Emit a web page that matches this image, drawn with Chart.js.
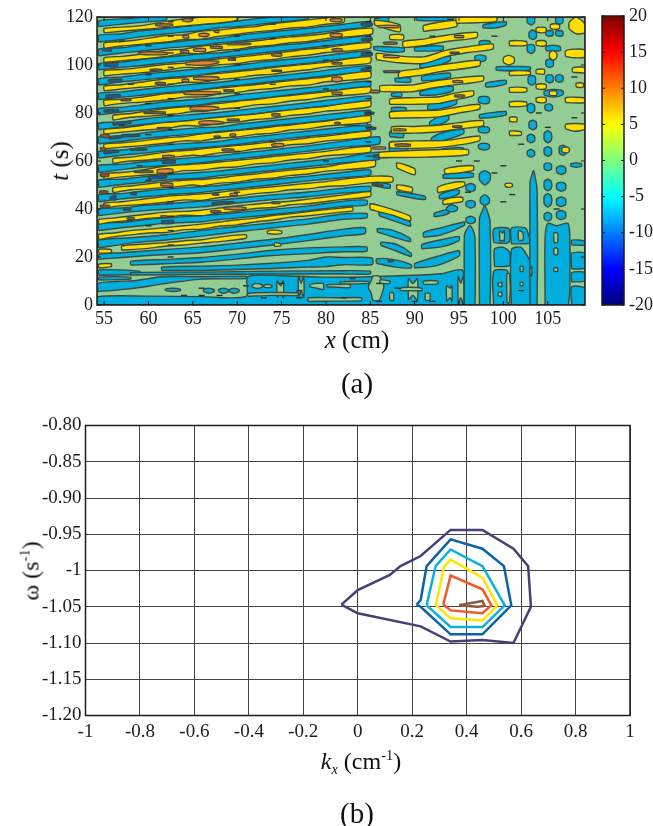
<!DOCTYPE html>
<html>
<head>
<meta charset="utf-8">
<script src="https://cdn.jsdelivr.net/npm/chart.js@4"></script>
<style>
  body { margin: 0; background: #fff; width: 653px; height: 826px; overflow: hidden; position: relative; }
  canvas { position: absolute; }
  .lbl { position: absolute; font-family: "Liberation Serif", serif; color: #111; white-space: nowrap; transform: translate(-50%, -50%); }
  .lbl sup, .lbl sub { font-size: 60%; line-height: 0; }
  .rot { transform: translate(-50%, -50%) rotate(-90deg); }
</style>
</head>
<body>
<canvas id="contour" width="653" height="335" style="left:0;top:0"></canvas>
<canvas id="colorbar" width="58" height="335" style="left:595px;top:0"></canvas>
<canvas id="spectrum" width="653" height="340" style="left:0;top:410px"></canvas>
<div class="lbl rot" style="left:60px;top:161px;font-size:25px"><i>t</i> (s)</div>
<div class="lbl" style="left:357px;top:340px;font-size:25px"><i>x</i> (cm)</div>
<div class="lbl" style="left:357px;top:383px;font-size:29px">(a)</div>
<div class="lbl rot" style="left:31px;top:571px;font-size:24px">ω (s<sup>-1</sup>)</div>
<div class="lbl" style="left:361px;top:761px;font-size:24px"><i>k<sub>x</sub></i> (cm<sup>-1</sup>)</div>
<div class="lbl" style="left:357px;top:813px;font-size:29px">(b)</div>
<script>
// panel (a) axes
const xTicksA = [55, 60, 65, 70, 75, 80, 85, 90, 95, 100, 105];
const tTicksA = [0, 20, 40, 60, 80, 100, 120];
const barTicks = [-20, -15, -10, -5, 0, 5, 10, 15, 20];
const jetStops = ['#800000', '#ff0000', '#ffff00', '#00ffff', '#0000ff', '#000080'];

// bands: x, t low, t high, x, t low, t high ...
const groundBand = [54.2, 0, 120, 109.2, 0, 120];

const blueBands = [
  [54.4,116,118.4, 58,117.4,119.4, 62,118.8,120.6],
  [54.4,109.6,112.4, 57,110.6,113, 59,111.7,114.2, 62,113,115.2, 66,114.4,116.9, 68,115.5,117.4, 70,116,118.3, 74,117.6,120, 78,119.2,120.6],
  [54.4,103.8,106.6, 57,105,107.2, 59,105.7,108.2, 62,107,109.3, 66,108.2,110.7, 68,109.3,111.1, 70,109.9,112.3, 74,111.5,113.9, 78,113,115.3, 82,114.8,117, 85,116.1,118.1],
  [54.4,98,100.6, 57,99,101.2, 59,99.7,102.2, 62,100.9,103.3, 66,102.3,104.7, 68,103.2,105, 70,103.9,106.1, 74,105.5,107.9, 78,107.1,109.3, 82,108.7,111.1, 85,110,112.1],
  [54.4,91.6,94.2, 57,93,95, 59,93.7,96, 62,94.7,97.1, 66,95.9,98.5, 68,97,99, 70,97.7,99.9, 74,99.3,101.7, 78,100.8,103.1, 82,102.5,104.9, 85,103.8,105.9],
  [54.4,85.6,88.2, 57,86.6,88.8, 59,87.3,89.7, 62,88.5,90.9, 66,89.7,92.3, 68,90.8,92.8, 70,91.5,93.7, 74,93.1,95.3, 78,94.7,96.9, 82,96.3,98.7, 85,97.5,99.7],
  [54.4,79.2,81.8, 57,80.4,82.4, 59,81.1,83.3, 62,82.3,84.7, 66,83.5,85.9, 68,84.6,86.4, 70,85.1,87.5, 74,86.7,89.1, 78,88.5,90.5, 82,89.9,92.3, 85,91.3,93.3],
  [54.4,73,75.8, 57,74.2,76.2, 59,75.1,77.3, 62,76.1,78.5, 66,77.3,79.7, 68,78.4,80.2, 70,78.9,81.1, 74,80.5,82.7, 78,82.1,84.3, 82,83.7,86.1, 85,85.1,87.1],
  [54.4,67.2,70, 57,68.2,70.4, 59,69.1,71.5, 62,70.3,72.7, 66,71.5,73.9, 68,72.4,74.2, 70,72.9,75.3, 74,74.7,76.9, 78,76.1,78.5, 82,77.7,80.1, 85,78.9,81.1],
  [54.4,61.2,64, 57,62.4,64.6, 59,63.1,65.5, 62,64.3,66.7, 66,65.5,67.7, 68,66.2,68.2, 70,66.9,69.3, 74,68.7,70.9, 78,70.3,72.5, 82,71.7,74.1, 85,72.9,75.1],
  [54.4,55.2,58.2, 57,56.4,58.6, 59,57.3,59.5, 62,58.1,60.5, 66,59.3,61.7, 68,60.2,62.2, 70,60.9,63.1, 74,62.5,64.7, 78,64.1,66.3, 82,65.9,68.3, 86,67.1,70.1],
  [54.4,49,52, 57,50.2,52.4, 59,50.9,53.3, 62,52.1,54.3, 66,52.9,55.3, 68,53.9,55.9, 70,54.5,56.7, 74,56.1,58.3, 78,57.7,59.9, 82,59.3,61.5, 86,60.7,63.7],
  [54.4,43,46, 57,44.2,46.4, 59,44.9,47.3, 62,45.9,48.3, 66,46.9,49.3, 68,47.8,49.8, 70,48.5,50.7, 74,50.1,52.3, 78,51.7,53.7, 82,53.1,55.3, 85,54.1,56.3],
  [54.4,37.2,40, 57,38.4,40.4, 59,39.1,41.3, 62,39.9,42.1, 66,40.9,43.3, 68,41.7,43.7, 70,42.5,44.5, 74,43.9,45.9, 78,45.1,47.1, 82,46.7,48.7, 85,47.5,49.5],
  [54.4,31,34, 57,32.2,34.4, 59,32.9,35.3, 62,34.1,36.3, 66,34.7,37.3, 68,35.6,37.8, 70,36.3,38.5, 74,37.7,39.9, 78,39.3,41.3, 82,41.1,43.3, 84.6,41.7,43.7],
  [54.4,23.8,27, 58,25.8,28, 62,27.1,29.3, 66,28.7,31.1, 70,30.5,32.7, 74,32.1,34.3, 78,33.7,35.9, 82,35.7,37.9, 84.6,36.3,38.1],
  [54.4,19,21, 57,19.8,21.8, 60,20.6,22.6, 63,21.2,23.4, 66,21.8,24.2, 70,23.4,25.8, 74,25,27.4, 78,26.8,29.4, 82,28.8,31.6, 84.4,29.8,32.2],
  [58,16.6,18.2, 62,17.2,19, 66,17.8,19.8, 70,19.2,21.2, 74,20.6,22.8, 78,21.4,23.8, 82,22.2,24.2, 84.6,22.4,24.2],
  [61.5,14.4,15.8, 66,14.4,16.2, 70,14.8,16.6, 74,15.2,17.4, 78,15.8,18.6, 80,16,20, 82,16.8,19.8, 85.2,16.8,19.6],
  [54.4,12.4,14.6, 59,12.9,14.1],
  [58,12.5,13.5, 66,12.7,13.7, 74,12.9,14.1, 82,12.9,14.3, 85,12.9,14.1],
  [54.2,0,3.4, 60,0,3.7, 66,0,3.5, 71,0,3.6, 71.2,0,11.8, 75,0,12.2, 80,0,11.6, 85,0,11.8, 90,0,12.4, 93,0,13, 95.4,0,14.4],
  [54.3,5.6,9, 56.4,6.2,9.8, 58.4,7,10.1, 60,7.8,11, 61.4,8.7,11.8, 66,10.8,11.8, 71,11,12],
  [54.4,10.4,11.6, 58,10.8,11.6],
  [61.9,6,6.6, 62.7,5.6,7, 63.6,6,6.6],
  [66.2,5.6,6.4, 66.8,4.9,7, 67.4,5.6,6.4],
  [67.9,5.6,6.4, 68.4,4.9,7, 69,5.6,6.4],
  [69.1,5.6,6.4, 69.6,4.9,7, 70.2,5.6,6.4],
  // right of the kink at x = 85
  [85.5,117.8,119.2, 87,117.4,120.2],
  [90.2,118.6,119.8, 92,118.4,120.2, 94.3,118.8,120.2],
  [85.4,106.4,107.6, 87,105.4,107.6, 88.8,105.6,107],
  [90,105.8,107.2, 92,105.8,108, 93.2,106.4,107.8],
  [90.6,98.8,100.2, 92,99.2,102.2, 94,101.8,103.6],
  [87.8,93,94.4, 89.5,92.8,94.6],
  [90.8,93.4,95.2, 92.5,93.8,96.2, 94,94.8,96.6],
  [87.4,87,88.2, 88.5,86.8,88.6],
  [90.6,87.4,88.8, 92.5,87.6,90.6, 94.3,89.2,91],
  [87.4,80.8,82.2, 89,80.8,82.2],
  [91.5,81.2,83.2, 93,81.8,85.2, 94.7,83.8,85.6],
  [91.7,74.6,76.2, 92.8,75.2,78.6, 93.8,77.2,79.2],
  [87.2,70.2,72.2, 88.7,69.8,71.8],
  [91.9,67.4,69.6, 93.5,68.8,72.2, 95.5,71.4,73.2],
  [87.2,61.8,67.8, 89,62.2,67],
  [93,62.6,64.8, 94.5,63.2,65.6, 95.5,64,65.4],
  [82,75,77, 84.6,74.8,76.8],
  [86,37.2,38.8, 88,34.6,37, 89.5,32.8,34.4],
  [85.8,30.4,31.8, 87.5,28.4,31.2, 89.5,26.4,27.8],
  [86.2,24.8,26.2, 88,22.4,25.2, 89.6,20.2,21.6],
  [85.7,17.4,19.2, 87.5,16,19, 89.6,15.4,16.8],
  [88,45.8,47.2, 90,44.4,46.2, 91.2,44,45.2],
  [85.3,49.8,51.2, 87.2,48.6,50.2],
  [91,28.2,30.2, 93,29.2,32.2, 95.6,33.2,34.6],
  [90.8,23.4,25.2, 93,24.2,27.2, 95,26.8,28.6],
  [90,15.4,17.2, 92.5,16.4,20.2, 95,20.4,22.6],
  [92.8,44.2,45.8, 94,44.8,47.6, 95,46.4,47.8],
  [93.2,52.8,54.2, 95,52.8,55.2, 96.6,53.4,54.8],
  [92.2,36.8,38.2, 93,37.2,39.2, 93.9,38.4,39.8],
  [93.6,39.4,40.6, 94.2,38.8,41.8, 94.8,39.6,40.8],
  [95.8,48,49.8, 96.3,47.2,50.6, 96.8,48,49.8],
  [95.8,41.2,42.8, 96.3,40.4,43.6, 96.8,41.2,42.8],
  [95.8,34.6,36.2, 96.3,33.8,37, 96.8,34.6,36.2],
  [97.3,52,54.6, 97.9,50,56, 98.5,52,54.6],
  [97.4,42.6,44.4, 97.9,41.5,46, 98.4,42.6,44.4],
  // blobs past x = 97
  [97.7,115.4,116.6, 99,115.4,117.6, 100.3,116.6,118],
  [97.3,108,109.8, 97.9,107.6,110.2, 98.5,108,109.8],
  [96.8,102,103.6, 97.4,101.4,104.2, 98,102,103.6],
  [99.2,97.8,99.2, 101,97.6,99.4, 103,97.8,99.2],
  [98,90.8,92.4, 99,91,93.2, 100.3,92.2,93.6],
  [97.2,84.4,86.4, 97.8,83.8,87, 98.4,84.4,86.4],
  [97.3,77.8,79.2, 98.8,78.2,80.2, 100.3,79.2,80.6],
  [97.2,72.2,73.8, 97.8,71.6,74.4, 98.4,72.2,73.8],
  [97.2,65.2,66.8, 97.8,64.6,67.4, 98.4,65.2,66.8],
  [102.7,117.6,119.8, 103.1,116.6,120.2, 103.5,117.6,119.8],
  [105.9,117.8,119.6, 106.3,117,120.2, 106.7,117.8,119.6],
  [104.8,112.4,114, 105.2,112,114.4, 105.6,112.4,114],
  [105.9,112.4,114, 106.3,112,114.4, 106.7,112.4,114],
  [102.9,111.4,113.6, 103.3,110.6,114.6, 103.7,111.4,113.6],
  [102.7,105.6,108, 103.1,104.8,108.6, 103.5,105.6,108],
  [104.8,106,107.6, 105.6,105.8,108.2, 106.4,106,107.6],
  [104.8,99.6,101.8, 105.2,99,102.4, 105.6,99.6,101.8],
  [104.8,93.2,95.4, 105.2,92.6,96, 105.6,93.2,95.4],
  [105.9,93.4,95.4, 106.3,92.8,96, 106.7,93.4,95.4],
  [102.8,92.4,95, 103.2,91.6,95.6, 103.6,92.4,95],
  [104.6,87.4,89, 105.6,86.6,89.8, 106.7,87.6,89.2],
  [102.7,80.8,83.2, 103.1,80,84, 103.5,80.8,83.2],
  [104.7,81.4,83.2, 105.1,80.8,83.8, 105.5,81.4,83.2],
  [102.9,73.8,76.2, 103.3,73,77, 103.7,73.8,76.2],
  [104.6,68.6,71.6, 105,67.6,72.6, 105.4,68.6,71.6],
  [102.7,68.4,70.4, 103.1,67.6,71.2, 103.5,68.4,70.4],
  [106.3,63.2,65.8, 106.7,62.4,66.6, 107.1,63.2,65.8],
  [104.6,62.8,65.2, 105,62,66, 105.4,62.8,65.2],
  [102.7,62.4,64, 103.1,61.6,64.8, 103.5,62.4,64],
  [106,55.2,57.2, 106.5,54.4,58, 107,55.2,57.2],
  [106,48.2,50.4, 106.5,47.4,51.2, 107,48.2,50.4],
  [106,41.8,44.2, 106.5,41,45, 107,41.8,44.2],
  [106,36.4,38.6, 106.5,35.6,39.4, 107,36.4,38.6],
  [104.6,56.6,58.6, 105,56,59.2, 105.4,56.6,58.6],
  [104.6,48.6,51.4, 105,47.6,52.4, 105.4,48.6,51.4],
  [104.6,42,45.4, 105,40.8,46.4, 105.4,42,45.4],
  [104.6,35.8,37.8, 105,35,38.6, 105.4,35.8,37.8],
  [107.6,57.8,58.8, 108.2,57.4,59.2, 108.8,57.8,58.8],
  // blue columns on the right, low / high per x
  [95.6,0,29, 95.8,0,31, 96.2,0,33, 96.6,0,31, 96.8,0,28],
  [97.3,0,36, 97.6,0,39, 97.9,0,41.5, 98.2,0,39, 98.5,0,35],
  [98.9,26,31.6, 100.6,26,31.8],
  [99,16,23.4, 100,16,24, 100.7,16.5,22],
  [98.9,0,14, 100.5,0,14],
  [100.9,25.5,32, 102.5,25.5,32, 103,26,27],
  [100.9,0,23, 102,0,24, 103.2,0,16],
  [103,0,51, 103.2,0,54, 103.4,0,56, 103.6,0,53, 103.8,0,48],
  [104.7,0,28, 105,0,34, 106,0,33, 107.3,0,34, 107.5,14,25],
  [107.7,15,21.5, 109.2,15.5,21.5],
  [107.7,9.6,13.5, 109.2,10,13.5],
  [107.7,0,7.5, 109.2,0,7],
  [107.7,25,27, 109.2,25,26.6]
];

// green holes painted over the blue
const greenHoles = [
  [71.7,7.4,8.4, 72.2,6.9,8.9, 72.8,7.4,8.4],
  [73,7.4,8.3, 73.5,7.2,8.5, 73.9,7.5,8.1],
  [74.5,3,10, 74.9,5,8, 75.2,3,10],
  [71.2,3.6,4.8, 74,4,5.2, 77,4,5],
  [76.9,3,12, 77.2,6,9, 77.5,3,12],
  [78.2,7.5,8.5, 79,7,9, 79.7,6.5,9],
  [80.1,7.6,8.4, 81.4,7.4,8.6, 82.7,7.2,8.6],
  [78,1.5,3, 81,1.6,3, 84,1.8,3],
  [84.8,7,8, 85.1,5,10, 85.3,2,12, 86,2,12, 86.5,7,8.5],
  [81.6,8.8,9.6, 84.8,9,9.8],
  [86.1,9,10.4, 87.2,9,10],
  [87.2,2,5, 87.6,2,5],
  [89.3,2,11, 89.8,4,9, 90.3,2,11],
  [88.4,6,7, 89.3,6,7.4, 90.8,6,7],
  [91.2,2,4.8, 91.7,2,4.8],
  [91,8.6,10, 92.6,8.8,10],
  [93.6,1.5,8, 94,3,7, 94.2,1.5,8],
  [94.9,0,12, 95.2,3,9, 95.5,0,12],
  [99.6,26.6,31, 99.9,27,30, 100.1,26.6,31],
  [101.7,27,31, 102.2,27,30],
  [105.7,26,30, 106.1,26,30],
  [105.7,21,23.6, 106.1,21,23.6],
  [105.7,14,15.4, 106.1,14,15.4],
  [99.4,4,5, 99.8,3.6,5.4],
  [99.4,8,9, 99.8,7.6,9.4],
  [101.9,14,16, 102.2,14,16],
  [101.9,8,9.4, 102.2,8,9.4],
  [100.4,1,13, 100.7,1,13],
  [103,13,15, 103.2,12,16]
];

const yellowBands = [
  [55,113.4,115.2, 59,114.7,116.3, 62,115.6,118.2, 66,116.9,120, 70,118.6,120.6],
  [55,107,109.2, 57,107.9,109.8, 59,108.6,110.6, 62,109.6,112.3, 64,110.6,112.6, 66,110.8,114.1, 68,112,114.6, 70,112.8,115.5, 72,113.8,116, 74,114.4,117.2, 76,115.4,118, 78,115.9,118.8, 80,117,119.6, 82,117.8,120.4],
  [55,101,103, 57,101.8,103.6, 59,102.4,104.5, 62,103.6,106.1, 64,104.8,106.6, 66,104.8,107.9, 68,106.1,108.6, 70,106.6,109.3, 72,107.7,110, 74,108.2,110.9, 76,109.3,111.7, 78,109.8,112.3, 80,111,113.1, 82,111.6,114.3, 85.2,112.9,115.3],
  [55,95.4,97.6, 57,96.2,98.1, 59,96.7,98.9, 62,97.8,100.3, 64,99,100.8, 66,98.9,101.9, 68,100.1,102.6, 70,100.6,103.3, 72,101.7,104, 74,102.3,104.9, 76,103.4,105.7, 78,104.1,106.6, 80,105.2,107.2, 82,105.7,108.3, 85,107,109.3],
  [55,89.2,91.2, 57,90,91.8, 59,90.7,92.8, 62,91.6,94.3, 64,92.8,94.8, 66,92.8,95.8, 68,94,96.5, 70,94.6,97.3, 72,95.7,98, 74,96.2,98.9, 76,97.3,99.7, 78,98,100.4, 80,99.2,101.1, 82,99.7,102.3, 85,100.9,103.5],
  [55,83,85.3, 57,84,85.7, 59,84.5,86.5, 62,85.4,88.1, 64,86.6,88.6, 66,86.7,89.7, 68,88,90.4, 70,88.6,91.1, 72,89.7,91.8, 74,90.2,92.7, 76,91.3,93.5, 78,91.6,94.3, 80,93,95, 82,93.5,96.1, 85,94.7,97.3],
  [56,77,79, 58,78.2,79.8, 60,78.7,80.9, 63,79.6,82.3, 65,80.6,82.8, 66,80.6,83.3, 68,81.6,84, 70,82.2,84.9, 72,83.4,85.6, 74,83.8,86.5, 76,85,87.3, 78,85.6,88.1, 80,86.8,88.8, 82,87.3,89.9, 85,88.5,90.9],
  [55,71.2,73.2, 57,72,73.8, 59,72.7,74.7, 62,73.6,76.1, 64,74.8,76.6, 66,74.6,77.5, 68,75.9,78.2, 70,76.2,78.9, 72,77.3,79.6, 74,77.8,80.5, 76,79,81.3, 78,79.6,82.1, 80,80.8,82.8, 82,81.3,83.9, 85,82.7,85.1],
  [55,65,67, 57,65.8,67.6, 59,66.3,68.3, 62,67.4,69.7, 64,68.4,70.2, 66,68.4,71.3, 68,69.6,72, 70,70,72.7, 72,71.1,73.4, 74,71.6,74.3, 76,72.9,75, 78,73.4,75.9, 80,74.6,76.6, 82,75.1,77.7, 85,76.3,78.9],
  [56,59,61, 58,60,61.6, 60,60.4,62.7, 63,61.6,64.1, 65,62.4,64.6, 66,62.2,65.1, 68,63.4,65.8, 70,63.8,66.5, 72,65,67.2, 74,65.6,68.1, 76,66.8,68.8, 78,67.2,69.7, 80,68.4,70.4, 82,68.9,71.3, 85,70.1,72.5],
  [55,52.4,54.6, 57,53.4,55.2, 59,54,56.1, 62,54.8,57.9, 64,56,58.4, 66,56.2,58.9, 68,57.2,59.6, 70,57.6,60.3, 72,58.8,61, 74,59.2,61.9, 76,60.4,62.6, 78,61,63.3, 80,62.2,64, 82,62.7,65.1, 85,63.7,66.1],
  [56,46.8,48.8, 58,48,49.6, 60,48.4,50.5, 63,49.2,51.7, 65,50,52.2, 66,49.6,52.3, 68,50.8,53, 70,51.2,53.9, 72,52.4,54.6, 74,52.8,55.5, 76,54,56.2, 78,54.6,56.9, 80,55.8,57.6, 82,56.3,58.9, 85.5,57.7,60.3],
  [55,40.4,42.4, 57,41.4,43, 59,41.8,43.9, 62,42.8,45.3, 64,43.8,45.8, 66,43.6,46.3, 68,44.8,47, 70,45.4,47.9, 72,46.4,48.6, 74,47,49.3, 76,48,50, 78,48.4,50.7, 80,49.4,51.4, 82,49.7,52.5, 85.5,51.1,53.7, 87.5,51.3,53.3],
  [54.4,33.6,35.6, 56,34.6,36.2, 58,35.2,37.1, 60,36.2,37.9, 62,36.6,38.7, 64,37.4,39, 66,37.2,39.5, 68,38.4,40.4, 70,39,41.3, 72,40.2,42, 74,40.6,42.7, 76,41.8,43.2, 78,42.2,44.1, 82,44,45.9, 85,45.2,47.3],
  [54.4,27.2,29.4, 56,28.4,30, 58,29.2,31, 60,30,31.6, 62,30.2,32.3, 64,31.4,33, 66,31.6,33.7, 68,32.8,34.6, 70,33.4,35.5, 72,34.6,36.2, 74,35.4,37.3, 76,36.6,38, 78,37.2,38.9, 82,38.8,40.5, 83,39.2,40.7],
  [57,22.8,24.6, 60,23.6,25.5, 62,24.6,26, 64,25,26.8, 66,25.8,27.2, 68,26.4,28.3, 71,27.8,29.3],
  [73.4,29.8,30.8, 74.2,29.5,31.2, 75,29.8,30.8],
  [54.4,21.6,23.2, 55.8,21.8,23],
  [54.4,15.4,17, 55.8,16,17.2],
  [74.2,24.4,25.8, 74.9,24.6,25.6],
  // right of the kink
  [85.5,116.6,118.6, 88.3,113.8,116.8],
  [87.2,110.6,112.4, 88.7,110.6,112.6],
  [88.7,107.2,109.8, 91,108,110.8, 93.6,109.8,112.4, 97,111.4,113.6],
  [85.7,102.2,104.8, 88,101,103.8, 91,100.6,103.4, 93.6,103.6,106.2, 96,105.2,107.6, 98.8,106.6,108.8],
  [88.2,94.6,97.2, 90.5,95.6,98.4, 92.8,97.2,100, 97.3,99.6,102],
  [86.1,89,91.4, 89.5,88.8,91.6, 92,90.4,93.2, 94.3,91.6,94.4, 97.7,93.4,95.4],
  [87.2,83.6,85.8, 90,83.6,86.4, 92.8,84,86.8, 94.7,85.6,88.4, 96.6,87.2,89.2],
  [87.2,77.8,80.4, 90,78,81, 92.8,78.4,81.2, 95,80,82.6, 97.3,81.6,83.6],
  [87.4,71.6,74.2, 90,71.6,74.4, 92.8,72.2,75, 95,73.4,76, 97.7,74.6,76.8],
  [87.2,65.4,67.8, 90,65.2,68.4, 93.6,66,68.6, 97.3,68.4,70.4],
  [86,61.4,63.6, 91.3,61.6,64.6, 96,62.6,64.8],
  [91,114,116.4, 94.7,116,118.6],
  [94.7,117.4,120, 97,117.6,120.4, 99.2,118.2,120.6],
  [85,39.8,42.2, 87.5,37.4,39.8, 89.5,35,37],
  [88,48,50, 89.7,47,49],
  [88,57,59.2, 90,54.2,56.8],
  [93.2,41.8,43.6, 94.3,42.4,44.8, 95.4,43.2,44.8],
  [92.6,46.8,49, 94,47.8,50.8, 95.6,49.6,51.2],
  [93.4,54.6,56.6, 95,55,57.8, 96.6,56.2,58],
  [100,101,103, 100.6,100,104, 101.2,101,103],
  [100.7,108,110, 102.6,108.2,109.8],
  [100.7,95.6,97.4, 103,96,97.4],
  [100.7,88.6,90.6, 102.6,88.8,90.4],
  [100.7,82.6,84.6, 102.6,83,84.6],
  [100.7,76.4,78.2, 101.5,76.4,78.2],
  [100.7,70.6,72.4, 102,70.8,72.2],
  [103.7,113.8,115.4, 104.3,113.4,115.8, 104.8,113.8,115.4],
  [103.7,108.2,109.8, 104.3,107.8,110.2, 104.8,108.2,109.8],
  [103.7,96.4,98, 104.6,96.2,98.2],
  [103.7,90.2,91.8, 104.3,89.8,92.2, 104.8,90.2,91.8],
  [103.7,84.6,86.2, 104.3,84.2,86.6, 104.8,84.6,86.2],
  [105.3,115.2,116.8, 105.8,114.8,117.2, 106.3,115.2,116.8],
  [105.2,103,105, 105.6,102,106, 106,103,105],
  [107.4,115,117.6, 108.2,113,120, 109.2,113.6,117],
  [107,103.6,105.8, 108,103,106.6, 109.2,103.4,106.2],
  [107.8,97,98.8, 109.2,96.8,99],
  [108.2,90.8,92.4, 108.6,90.6,92.6, 109,90.8,92.4],
  [107,84.4,86.4, 108,84.2,86.6, 109.2,84.4,86.2],
  [107,73.4,75.2, 108,72.4,75.6, 109.2,73.2,75.2],
  [106.6,63.8,65.4, 107,63.4,65.8, 107.4,63.8,65.4],
  [105.2,87.4,89, 105.6,87.2,89.2, 106,87.4,89],
  [100.2,49.4,50.4, 100.6,49,50.8, 101,49.4,50.4]
];

const orangeBands = [
  [63.8,118.4,119, 64.4,118,119.4, 64.9,118.4,119],
  [60.8,116.4,117, 61.8,116.1,117.2, 62.7,116.4,117],
  [65.7,112,113, 66.3,111.8,113.2, 66.8,112.2,112.9],
  [63.9,111.4,112.2, 64.5,111.2,112.4],
  [67.4,113.7,114.1, 67.9,113.5,114.4],
  [80.5,112,113, 81.1,111.6,113.2, 81.8,112,113],
  [80.5,118.3,119.1, 81.1,118,119.4, 81.8,118.3,119.1],
  [58.9,104.5,105.2, 60.5,104.2,105.5, 62.1,104.5,105.1],
  [63.6,105.2,105.9, 64.5,105,106],
  [65.1,105.8,106.6, 66.4,105.6,106.8],
  [67,107,107.6, 68.3,106.9,107.7],
  [68.9,108.4,109, 71.5,108.5,109],
  [73.9,103.8,104.6, 75,103.7,104.7],
  [80.7,105.9,106.6, 81.8,105.8,106.7],
  [64.2,100.2,101, 66,99.8,101.7, 67.9,100.9,101.6],
  [69,102,102.7, 69.8,102,102.6],
  [80.7,100.4,101, 81.8,100.4,101],
  [60.2,97.6,98.2, 61.5,97.6,98.2],
  [60.8,92,92.7, 61.9,92,92.6],
  [63.8,93.1,94, 64.5,93,94.1],
  [65.1,94,94.9, 66.8,93.6,95.2, 67.9,94,94.9],
  [73.9,97.4,97.8, 75,97.4,97.8],
  [80.7,93.2,94.8, 81.3,93,95, 81.8,93.4,94.6],
  [64,87.8,88.6, 66,87.6,89, 68.1,88,88.8],
  [68.5,89,89.6, 69.6,89,89.6],
  [80.7,87.8,88.6, 81.8,87.8,88.6],
  [56.9,85.1,85.7, 58,85.1,85.7],
  [64.7,81.3,82.4, 66.5,81,82.8, 67.9,81.6,82.3],
  [59.5,79.8,80.4, 61.9,79.8,80.4],
  [65.7,75.4,76.4, 67,75.2,76.8, 68.5,75.6,76.2],
  [68.9,76.8,77.4, 70.2,76.8,77.4],
  [73.9,78.8,79.6, 74.8,78.8,79.6],
  [81,75.4,76, 81.6,75.4,76],
  [61,73.4,73.9, 62.5,73.4,73.9],
  [67.4,69.8,70.3, 68.1,69.8,70.3],
  [69.2,70.4,71.2, 69.8,70.4,71.2],
  [73.9,66.2,67, 75.2,66,67.2],
  [68.3,64.2,64.9, 69.6,64.2,64.9],
  [61.6,61.4,62.2, 62.9,61.4,62.2],
  [58.4,55.2,55.8, 60.5,55.3,55.9],
  [61,55,56.4, 62.7,54.9,56.6],
  [61.4,49.6,50.6, 62.7,49.6,50.6],
  [67.2,45.8,46.3, 67.9,45.8,46.3],
  [69.2,45.6,46.4, 70,45.6,46.4],
  [68.5,40,40.6, 69.8,39.6,41, 71,40,40.6],
  [67,38.6,39.2, 68.1,38.6,39.2],
  [62.1,42.3,42.9, 62.7,42.3,42.9],
  [73.9,42.3,42.9, 74.8,42.3,42.9],
  [61.4,36.5,37.1, 62.1,36.5,37.1],
  [57.6,35.7,36.3, 58.4,35.7,36.3],
  [85.9,115.6,116.4, 88.2,115.6,116.4],
  [86.5,108.7,109.4, 88,108.7,109.4],
  [86.5,103.1,103.9, 88.2,103.1,103.9],
  [86.5,96.9,97.5, 88.3,96.9,97.5],
  [85,88.5,89.3, 86,88.5,89.3],
  [94.5,111.4,112.2, 95.5,111.4,112.2],
  [94,104.8,105.3, 95,104.8,105.3],
  [94.3,92.7,93.4, 95.4,92.7,93.4],
  [94.5,86.7,87.4, 95.6,86.7,87.4],
  [94.3,74,74.6, 95.3,74,74.6],
  [87.6,72.6,73.3, 89,72.6,73.3],
  [85.3,65,65.8, 86.7,65,65.8],
  [87.8,66.2,67, 89.5,66.2,67]
];

const redBands = [
  [54.6,70,70.8, 55.5,69.8,71],
  [54.6,64.5,65.4, 55.2,64.5,65.4],
  [54.6,53.6,54.6, 55.5,53.6,54.6],
  [54.5,46.6,47.4, 55.4,46.6,47.4],
  [54.6,40.7,41.5, 55.6,40.7,41.5]
];

const darkBlueBands = [
  [54.8,106,106.8, 55.8,105.8,107],
  [55,99.6,100.4, 56.5,99.2,100.8],
  [55.5,93,93.8, 57,93,94],
  [55.2,86.4,87.4, 56.8,86.6,87.6],
  [55,80.4,81.2, 56.6,80.6,81.4],
  [56,75,75.8, 58,75.6,76.6],
  [55.6,69,69.8, 57,69.8,70.6],
  [57,70,71, 59,70.4,71],
  [55,63,64, 56.6,63.6,64.4],
  [58,64.4,65, 59.8,64.6,65.2],
  [55.7,44,45, 56.3,43.8,45.6],
  [58,46,46.8, 58.6,46,46.8],
  [57.2,39.4,40.4, 58,39.6,40.4],
  [61.5,33.8,35, 62.8,34,35.2],
  [67.2,41.6,42.6, 69.6,42.4,43],
  [61.6,59,60, 63,59.2,60.2],
  [60,52.6,53.6, 62,53,54],
  [84,116.4,117.4, 85.2,116.4,117.4],
  [84,110.2,111, 85.2,110.4,111.2],
  [84,104,105, 85.2,104,105],
  [84,97.4,98.4, 85,97.6,98.4],
  [84.4,79.4,80.4, 85.4,79.6,80.2],
  [84.6,73.2,74, 85.6,73.2,74],
  [85.3,61.4,62.4, 87,61.4,62.6],
  [85.2,49.8,50.6, 86.4,49.4,50],
  [87,18,18.6, 87.6,18,18.6]
];

// small closed contours that show up as dashes
const dashX = [62.5,62.5,62.5,62.5,62.5,62.5,62.5,62.5,62.5,62.5,62.5,62.5,62.5,62.5,62.5,62.5,
  70,70,70,70,70,70,70,70, 84.8,84.8,84.8,84.8,84.8,84.8,84.8,84.8,84.8,84.8,
  60,60,60,60,60,60, 74,74,74,74, 80,80,80,80, 92,94,95,96,99,100,101,104,105,108,108,102,99,97,100,102,106,
  57,58,57,59,66,71,75,77,83,86,88,64,66,68,73,77,82,86,90,92];
const dashT = [118,112,105,99,92,86,79,73,67,55,49,43,37,31,25,20,
  112,106,100,94,88,82,64,47, 118,112,105,99,93,86,80,74,68,62,
  108,96,84,71,52,33, 117,111,92,68, 108,102,90,60, 112,119,60,47,112,58,46,80,74,95,78,67,55,60,43,6,40,
  110,92,75,58,7,8,9,6,11,9,7,4,4,4,3,3,3,1.5,1.5,1.5];

// panel (b)
const kTicks = [-1, -0.8, -0.6, -0.4, -0.2, 0, 0.2, 0.4, 0.6, 0.8, 1];
const omegaTicks = [-0.8, -0.85, -0.9, -0.95, -1, -1.05, -1.1, -1.15, -1.2];
const omegaLabels = ['-0.80', '-0.85', '-0.90', '-0.95', '-1', '-1.05', '-1.10', '-1.15', '-1.20'];

const outerK = [-0.06, 0, 0.118, 0.157, 0.231, 0.341, 0.458, 0.572, 0.626, 0.636, 0.572, 0.458, 0.341, 0.231, 0, -0.06];
const outerW = [-1.047, -1.027, -1.006, -0.994, -0.98, -0.944, -0.944, -0.97, -0.994, -1.05, -1.1, -1.096, -1.098, -1.077, -1.059, -1.047];
const blueK = [0.216, 0.231, 0.253, 0.341, 0.458, 0.537, 0.564, 0.458, 0.341, 0.231, 0.216];
const blueW = [-1.047, -1.041, -0.994, -0.957, -0.97, -0.994, -1.048, -1.088, -1.088, -1.05, -1.047];
const cyanK = [0.253, 0.286, 0.341, 0.458, 0.54, 0.458, 0.341, 0.253];
const cyanW = [-1.048, -0.994, -0.971, -0.994, -1.048, -1.078, -1.078, -1.048];
const yellowK = [0.287, 0.317, 0.341, 0.458, 0.513, 0.458, 0.341, 0.287];
const yellowW = [-1.048, -0.995, -0.985, -1.01, -1.048, -1.069, -1.066, -1.048];
const orangeK = [0.314, 0.341, 0.458, 0.491, 0.458, 0.341, 0.314];
const orangeW = [-1.047, -1.007, -1.026, -1.048, -1.059, -1.055, -1.047];
const brownK = [0.372, 0.458, 0.466, 0.439, 0.372];
const brownW = [-1.048, -1.042, -1.049, -1.05, -1.048];

const SERIF = '"Liberation Serif", "Times New Roman", serif';
const INK = '#1c1c1c';
const EDGE = '#3b4a40';

function bandPoints(b) {
  const low = [], high = [];
  for (let i = 0; i < b.length; i += 3) {
    low.push({ x: b[i], y: b[i + 1] });
    high.unshift({ x: b[i], y: b[i + 2] });
  }
  return [...low, ...high, low[0]];
}

function zip(xs, ys) {
  return xs.map((x, i) => ({ x, y: ys[i] }));
}

// frame and inward tick marks, MATLAB style
function framePlugin(xValues, yValues, len) {
  return {
    id: 'frame',
    afterDraw(chart) {
      const { ctx, chartArea: a, scales } = chart;
      ctx.save();
      ctx.strokeStyle = INK;
      ctx.lineWidth = 1.5;
      ctx.strokeRect(a.left, a.top, a.right - a.left, a.bottom - a.top);
      ctx.lineWidth = 1;
      ctx.beginPath();
      xValues.forEach(v => {
        const p = scales.x.getPixelForValue(v);
        ctx.moveTo(p, a.bottom); ctx.lineTo(p, a.bottom - len);
        ctx.moveTo(p, a.top); ctx.lineTo(p, a.top + len);
      });
      yValues.forEach(v => {
        const p = scales.y.getPixelForValue(v);
        ctx.moveTo(a.left, p); ctx.lineTo(a.left + len, p);
        ctx.moveTo(a.right, p); ctx.lineTo(a.right - len, p);
      });
      ctx.stroke();
      ctx.restore();
    }
  };
}

// (a) filled contour map
const layers = [
  { bands: [groundBand], color: '#93cd93' },
  { bands: blueBands, color: '#00aede' },
  { bands: greenHoles, color: '#93cd93' },
  { bands: darkBlueBands, color: '#0b5fa8' },
  { bands: yellowBands, color: '#ffdd00' },
  { bands: orangeBands, color: '#f08224' },
  { bands: redBands, color: '#e8401c' }
];

const contourSets = [];
layers.forEach(layer => {
  layer.bands.forEach(b => {
    contourSets.push({
      data: bandPoints(b),
      showLine: true,
      fill: 'shape',
      backgroundColor: layer.color,
      borderColor: EDGE,
      borderWidth: 1.4,
      pointRadius: 0,
      tension: 0.25
    });
  });
});
contourSets.push({
  data: zip(dashX, dashT),
  showLine: false,
  pointStyle: 'line',
  pointRadius: 3,
  borderColor: '#26332b',
  pointBorderWidth: 1.4
});
contourSets.forEach((d, i) => { d.order = contourSets.length - i; });

new Chart(document.getElementById('contour'), {
  type: 'scatter',
  data: { datasets: contourSets },
  options: {
    responsive: false,
    animation: false,
    layout: { padding: { top: 17, right: 68 } },
    plugins: { legend: { display: false }, tooltip: { enabled: false } },
    scales: {
      x: {
        type: 'linear', min: 54.2, max: 109.2,
        afterBuildTicks: s => { s.ticks = xTicksA.map(value => ({ value })); },
        afterFit: s => { s.height = 30; },
        grid: { display: false, drawTicks: false },
        border: { display: false },
        ticks: { color: INK, font: { family: SERIF, size: 18 }, padding: 3, maxRotation: 0, autoSkip: false }
      },
      y: {
        type: 'linear', min: 0, max: 120,
        afterBuildTicks: s => { s.ticks = tTicksA.map(value => ({ value })); },
        afterFit: s => { s.width = 97; },
        grid: { display: false, drawTicks: false },
        border: { display: false },
        ticks: { color: INK, font: { family: SERIF, size: 18 }, padding: 4, autoSkip: false }
      }
    }
  },
  plugins: [framePlugin(xTicksA, tTicksA, 4)]
});

// colour bar for panel (a)
new Chart(document.getElementById('colorbar'), {
  type: 'bar',
  data: {
    labels: [''],
    datasets: [{
      data: [[-20, 20]],
      barPercentage: 1,
      categoryPercentage: 1,
      backgroundColor(c) {
        const a = c.chart.chartArea;
        if (!a) return '#888';
        const g = c.chart.ctx.createLinearGradient(0, a.top, 0, a.bottom);
        [0, 0.125, 0.375, 0.625, 0.875, 1].forEach((s, i) => g.addColorStop(s, jetStops[i]));
        return g;
      }
    }]
  },
  options: {
    responsive: false,
    animation: false,
    layout: { padding: { top: 16, left: 7, bottom: 30 } },
    plugins: { legend: { display: false }, tooltip: { enabled: false } },
    scales: {
      x: { display: false },
      y: {
        position: 'right', min: -20, max: 20,
        afterBuildTicks: s => { s.ticks = barTicks.map(value => ({ value })); },
        afterFit: s => { s.width = 29; },
        grid: { display: false, drawTicks: false },
        border: { display: false },
        ticks: { color: INK, font: { family: SERIF, size: 18 }, padding: 5, autoSkip: false }
      }
    }
  },
  plugins: [framePlugin([], barTicks, 3)]
});

// (b) spectrum contours
const specLines = [
  [outerK, outerW, '#46407a'],
  [blueK, blueW, '#0a62ab'],
  [cyanK, cyanW, '#08b2d8'],
  [yellowK, yellowW, '#ffe600'],
  [orangeK, orangeW, '#f05a28'],
  [brownK, brownW, '#8a5a44']
];

new Chart(document.getElementById('spectrum'), {
  type: 'scatter',
  data: {
    datasets: specLines.map(([k, w, color]) => ({
      data: zip(k, w),
      showLine: true,
      fill: false,
      borderColor: color,
      borderWidth: 2.5,
      pointRadius: 0
    }))
  },
  options: {
    responsive: false,
    animation: false,
    layout: { padding: { top: 15.5, right: 23 } },
    plugins: { legend: { display: false }, tooltip: { enabled: false } },
    scales: {
      x: {
        type: 'linear', min: -1, max: 1,
        afterBuildTicks: s => { s.ticks = kTicks.map(value => ({ value })); },
        afterFit: s => { s.height = 34.5; },
        grid: { color: '#444', lineWidth: 1, drawTicks: false },
        border: { display: false },
        ticks: { color: INK, font: { family: SERIF, size: 19 }, padding: 5, maxRotation: 0, autoSkip: false, callback: v => String(v) }
      },
      y: {
        type: 'linear', min: -1.2, max: -0.8,
        afterBuildTicks: s => { s.ticks = omegaTicks.map(value => ({ value })); },
        afterFit: s => { s.width = 85.5; },
        grid: { color: '#444', lineWidth: 1, drawTicks: false },
        border: { display: false },
        ticks: {
          color: INK, font: { family: SERIF, size: 19 }, padding: 4, autoSkip: false,
          callback: (v, i) => omegaLabels[i]
        }
      }
    }
  },
  plugins: [framePlugin([], [], 0)]
});
</script>
</body>
</html>
